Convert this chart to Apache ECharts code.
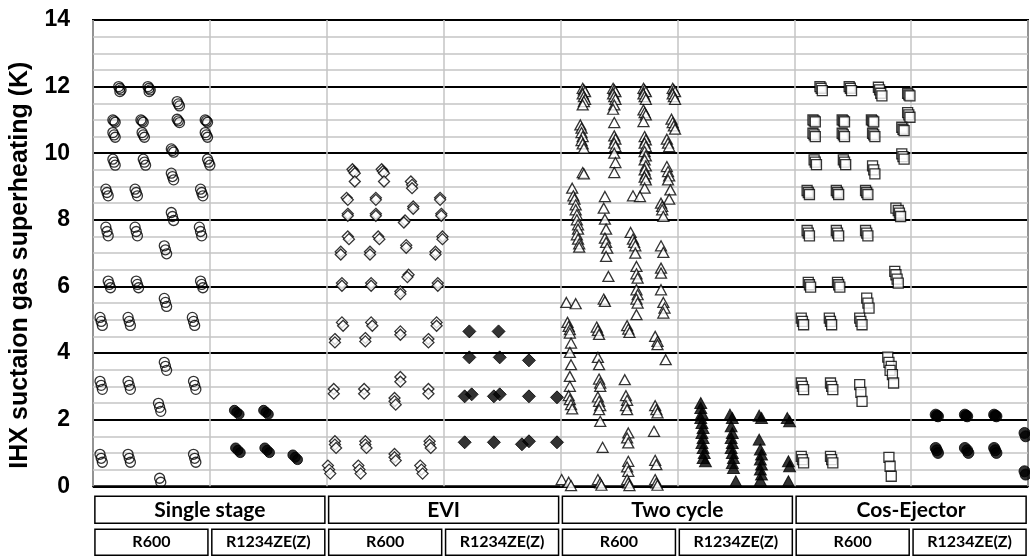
<!DOCTYPE html>
<html>
<head>
<meta charset="utf-8">
<script src="https://cdn.jsdelivr.net/npm/echarts@6/dist/echarts.min.js"></script>
<style>
  html, body { margin: 0; padding: 0; background: #fff; }
  #chart { width: 1030px; height: 556px; }
</style>
</head>
<body>
<div id="chart"></div>
<script>
// cycle groups and refrigerants shown under the plot
const groups = ['Single stage', 'EVI', 'Two cycle', 'Cos-Ejector']
const fluids = ['R600', 'R1234ZE(Z)', 'R600', 'R1234ZE(Z)', 'R600', 'R1234ZE(Z)', 'R600', 'R1234ZE(Z)']
const yTicks = [0, 2, 4, 6, 8, 10, 12, 14]

// [position within slot, superheating K]
const singleR600 = [
  [0.22,12.0],[0.23,11.95],[0.24,11.9],[0.23,11.85],
  [0.47,12.0],[0.48,11.95],[0.49,11.9],[0.48,11.85],
  [0.72,11.55],[0.73,11.48],[0.74,11.42],
  [0.17,11.0],[0.18,10.97],[0.19,10.93],
  [0.41,11.0],[0.42,10.97],[0.43,10.93],
  [0.72,11.02],[0.73,10.97],[0.74,10.92],
  [0.96,11.0],[0.97,10.97],[0.98,10.93],
  [0.17,10.62],[0.18,10.55],[0.19,10.48],
  [0.42,10.62],[0.43,10.55],[0.44,10.48],
  [0.96,10.62],[0.97,10.55],[0.98,10.48],
  [0.67,10.13],[0.68,10.08],[0.69,10.03],
  [0.17,9.82],[0.18,9.73],[0.19,9.64],
  [0.43,9.82],[0.44,9.73],[0.45,9.64],
  [0.98,9.82],[0.99,9.73],[1.0,9.64],
  [0.67,9.4],[0.68,9.3],[0.69,9.2],
  [0.11,8.92],[0.12,8.82],[0.13,8.72],
  [0.36,8.92],[0.37,8.82],[0.38,8.72],
  [0.92,8.92],[0.93,8.82],[0.94,8.72],
  [0.67,8.22],[0.68,8.1],[0.69,7.98],
  [0.11,7.78],[0.12,7.65],[0.13,7.52],
  [0.36,7.78],[0.37,7.65],[0.38,7.52],
  [0.91,7.78],[0.92,7.65],[0.93,7.52],
  [0.61,7.22],[0.62,7.1],[0.63,6.98],
  [0.13,6.16],[0.14,6.06],[0.15,5.96],
  [0.37,6.16],[0.38,6.06],[0.39,5.96],
  [0.92,6.16],[0.93,6.06],[0.94,5.96],
  [0.61,5.64],[0.62,5.52],[0.63,5.4],
  [0.06,5.07],[0.07,4.95],[0.08,4.83],
  [0.30,5.07],[0.31,4.95],[0.32,4.83],
  [0.85,5.07],[0.86,4.95],[0.87,4.83],
  [0.61,3.72],[0.62,3.6],[0.63,3.48],
  [0.06,3.15],[0.07,3.03],[0.08,2.91],
  [0.30,3.15],[0.31,3.03],[0.32,2.91],
  [0.86,3.15],[0.87,3.03],[0.88,2.91],
  [0.56,2.49],[0.57,2.37],[0.58,2.25],
  [0.06,0.96],[0.07,0.84],[0.08,0.72],
  [0.30,0.96],[0.31,0.84],[0.32,0.72],
  [0.86,0.96],[0.87,0.84],[0.88,0.72],
  [0.57,0.24],[0.58,0.12]
]
const singleR1234 = [
  [1.21,2.28],[1.23,2.22],[1.25,2.16],
  [1.46,2.28],[1.48,2.22],[1.50,2.16],
  [1.22,1.15],[1.24,1.08],[1.26,1.01],
  [1.47,1.15],[1.49,1.08],[1.51,1.01],
  [1.71,0.94],[1.73,0.87],[1.75,0.8]
]
const eviR600 = [
  [2.22,9.52],[2.23,9.46],[2.24,9.4],[2.24,9.15],
  [2.47,9.52],[2.48,9.46],[2.49,9.4],[2.49,9.15],
  [2.72,9.15],[2.73,9.05],[2.73,8.95],
  [2.17,8.66],[2.18,8.6],[2.42,8.66],[2.42,8.6],[2.97,8.66],[2.97,8.6],
  [2.18,8.18],[2.18,8.12],[2.42,8.18],[2.42,8.12],[2.74,8.4],[2.74,8.33],
  [2.67,7.98],[2.66,7.92],[2.98,8.18],[2.98,8.12],
  [2.18,7.5],[2.19,7.42],[2.44,7.5],[2.45,7.42],[2.99,7.5],[2.99,7.42],
  [2.12,7.04],[2.12,6.96],[2.37,7.04],[2.37,6.96],[2.68,7.24],[2.68,7.16],[2.93,7.04],[2.93,6.96],
  [2.13,6.1],[2.13,6.02],[2.38,6.1],[2.38,6.02],[2.70,6.35],[2.69,6.28],
  [2.63,5.85],[2.63,5.77],[2.95,6.1],[2.95,6.02],
  [2.13,4.92],[2.14,4.82],[2.38,4.92],[2.39,4.82],
  [2.07,4.42],[2.07,4.32],[2.33,4.45],[2.33,4.35],
  [2.63,4.65],[2.63,4.55],[2.94,4.92],[2.94,4.82],[2.87,4.42],[2.87,4.32],
  [2.06,2.92],[2.06,2.78],[2.32,2.92],[2.32,2.78],
  [2.63,3.28],[2.63,3.14],[2.58,2.65],[2.58,2.55],[2.59,2.45],
  [2.87,2.92],[2.87,2.78],
  [2.07,1.35],[2.07,1.25],[2.08,1.15],
  [2.33,1.35],[2.33,1.25],[2.34,1.15],
  [2.58,0.97],[2.58,0.87],[2.59,0.77],
  [2.88,1.35],[2.88,1.25],[2.89,1.15],
  [2.01,0.62],[2.02,0.5],[2.03,0.38],
  [2.27,0.62],[2.28,0.5],[2.29,0.38],
  [2.80,0.62],[2.81,0.5],[2.82,0.38]
]
const eviR1234 = [
  [3.22,4.65],[3.47,4.65],
  [3.22,3.87],[3.48,3.87],[3.73,3.78],
  [3.18,2.7],[3.24,2.76],[3.43,2.7],[3.48,2.76],[3.73,2.7],[3.97,2.67],
  [3.18,1.32],[3.43,1.32],[3.67,1.26],[3.73,1.35],[3.97,1.32]
]
const twoR600 = [
  [4.19,11.95],[4.2,11.9],[4.21,11.85],[4.19,11.78],[4.2,11.7],[4.21,11.62],[4.2,11.55],[4.19,11.45],
  [4.17,10.85],[4.18,10.75],[4.18,10.62],[4.19,10.5],[4.18,10.38],[4.19,10.28],[4.2,10.15],
  [4.19,9.42],[4.2,9.38],
  [4.1,8.95],[4.11,8.72],[4.12,8.62],[4.13,8.45],[4.13,8.3],[4.14,8.15],[4.14,8.0],[4.15,7.85],
  [4.15,7.72],[4.14,7.55],[4.15,7.42],[4.16,7.28],[4.16,7.18],
  [4.05,5.52],[4.13,5.48],
  [4.06,4.92],[4.07,4.8],[4.08,4.7],[4.08,4.6],[4.09,4.3],[4.08,4.02],[4.09,3.65],[4.08,3.3],
  [4.08,3.0],[4.07,2.72],[4.08,2.6],[4.09,2.45],[4.1,2.32],
  [4.01,0.2],[4.07,0.12],[4.09,0.02],
  [4.45,11.95],[4.46,11.9],[4.47,11.85],[4.45,11.78],[4.46,11.7],[4.47,11.62],[4.46,11.45],[4.45,11.32],
  [4.46,10.92],[4.46,10.52],[4.47,10.42],[4.46,10.3],[4.47,10.2],[4.46,10.0],[4.47,9.72],[4.46,9.42],
  [4.38,8.7],[4.37,8.35],[4.38,8.02],[4.39,7.72],[4.38,7.45],[4.39,7.32],[4.4,7.15],[4.39,6.9],[4.41,6.3],
  [4.37,5.62],[4.38,5.55],
  [4.31,4.78],[4.32,4.68],[4.33,4.56],[4.32,3.87],[4.33,3.65],[4.33,3.22],[4.34,3.1],[4.34,3.0],
  [4.32,2.68],[4.33,2.55],[4.34,2.42],[4.33,2.3],[4.34,1.95],[4.36,1.17],
  [4.32,0.2],[4.34,0.1],[4.35,0.03],
  [4.71,11.95],[4.72,11.9],[4.73,11.85],[4.71,11.78],[4.72,11.7],[4.73,11.62],
  [4.71,11.3],[4.72,11.22],[4.73,11.15],[4.71,10.95],
  [4.72,10.5],[4.73,10.4],[4.72,10.3],[4.73,10.2],[4.72,10.05],[4.73,9.92],[4.72,9.8],[4.73,9.62],
  [4.72,9.5],[4.73,9.38],[4.72,9.28],[4.73,9.2],[4.72,8.95],
  [4.62,8.72],[4.68,8.7],
  [4.6,7.62],[4.62,7.42],[4.63,7.32],[4.64,7.22],[4.64,7.0],[4.65,6.6],[4.65,6.38],[4.66,6.25],
  [4.65,5.9],[4.66,5.75],[4.65,5.62],[4.66,5.5],[4.65,5.15],
  [4.57,4.82],[4.58,4.72],[4.59,4.62],
  [4.55,3.2],[4.56,2.72],[4.57,2.58],[4.56,2.42],[4.57,2.3],
  [4.58,1.6],[4.57,1.45],[4.58,1.3],[4.58,0.75],[4.57,0.58],[4.58,0.45],
  [4.57,0.2],[4.58,0.1],[4.59,0.02],
  [4.96,11.95],[4.97,11.9],[4.98,11.85],[4.96,11.78],[4.97,11.7],[4.98,11.62],
  [4.95,11.02],[4.96,10.92],[4.97,10.82],[4.98,10.72],
  [4.91,10.42],[4.92,10.3],[4.93,10.2],
  [4.91,9.6],[4.92,9.45],[4.93,9.32],[4.92,9.2],
  [4.94,8.9],[4.93,8.62],[4.86,8.5],[4.87,8.4],[4.87,8.3],[4.88,8.1],
  [4.86,7.22],[4.88,7.02],[4.86,6.55],[4.86,6.4],[4.86,5.9],
  [4.88,5.52],[4.89,5.35],[4.88,5.2],
  [4.81,4.5],[4.83,4.35],[4.83,4.25],[4.9,3.8],
  [4.81,2.42],[4.82,2.3],[4.83,2.2],[4.8,1.65],
  [4.81,0.78],[4.82,0.65],[4.81,0.2],[4.82,0.1],[4.83,0.03]
]
const twoR1234 = [
  [5.2,2.5],[5.2,2.35],[5.21,2.2],[5.2,2.05],[5.21,1.9],[5.22,1.75],[5.21,1.6],[5.22,1.45],
  [5.21,1.3],[5.22,1.15],[5.23,1.0],[5.22,0.85],[5.24,0.75],
  [5.45,2.15],[5.47,2.05],[5.46,1.8],[5.47,1.6],[5.46,1.45],[5.47,1.3],[5.46,1.15],[5.47,1.0],
  [5.48,0.85],[5.47,0.7],[5.48,0.55],[5.5,0.15],
  [5.7,2.12],[5.72,2.05],[5.7,1.4],[5.71,1.1],[5.72,0.95],[5.71,0.8],[5.72,0.65],[5.71,0.5],
  [5.72,0.35],[5.71,0.18],
  [5.94,2.05],[5.96,1.95],[5.95,0.75],[5.96,0.6],[5.95,0.15]
]
const cosR600 = [
  [6.22,12.0],[6.23,11.95],[6.24,11.88],
  [6.47,12.0],[6.48,11.95],[6.49,11.88],
  [6.72,11.98],[6.73,11.9],[6.74,11.8],[6.75,11.72],
  [6.97,11.8],[6.98,11.75],[6.99,11.72],
  [6.16,11.0],[6.17,10.97],[6.18,10.94],
  [6.41,11.0],[6.42,10.97],[6.43,10.94],
  [6.66,11.0],[6.67,10.97],[6.68,10.94],
  [6.97,11.22],[6.98,11.15],[6.99,11.08],
  [6.92,10.78],[6.93,10.72],[6.94,10.68],
  [6.16,10.6],[6.17,10.55],[6.18,10.5],
  [6.41,10.6],[6.42,10.55],[6.43,10.5],
  [6.67,10.6],[6.68,10.55],[6.69,10.5],
  [6.92,9.98],[6.93,9.9],[6.94,9.82],
  [6.17,9.8],[6.18,9.73],[6.19,9.66],
  [6.42,9.8],[6.43,9.73],[6.44,9.66],
  [6.67,9.62],[6.68,9.5],[6.69,9.38],
  [6.11,8.88],[6.12,8.82],[6.13,8.76],
  [6.36,8.88],[6.37,8.82],[6.38,8.76],
  [6.61,8.88],[6.62,8.82],[6.63,8.76],
  [6.87,8.35],[6.89,8.28],[6.9,8.2],[6.91,8.1],
  [6.11,7.68],[6.12,7.6],[6.13,7.52],
  [6.36,7.68],[6.37,7.6],[6.38,7.52],
  [6.61,7.68],[6.62,7.6],[6.63,7.52],
  [6.86,6.45],[6.87,6.35],[6.88,6.22],[6.89,6.1],
  [6.12,6.12],[6.13,6.05],[6.14,5.98],
  [6.37,6.12],[6.38,6.05],[6.39,5.98],
  [6.62,5.65],[6.63,5.5],[6.64,5.35],
  [6.06,5.05],[6.07,4.95],[6.08,4.85],
  [6.3,5.05],[6.31,4.95],[6.32,4.85],
  [6.56,5.05],[6.57,4.95],[6.58,4.85],
  [6.8,3.88],[6.81,3.72],[6.83,3.6],[6.82,3.48],[6.84,3.35],[6.85,3.1],
  [6.06,3.1],[6.07,3.0],[6.08,2.9],
  [6.31,3.1],[6.32,3.0],[6.33,2.9],
  [6.56,3.05],[6.57,2.82],[6.58,2.55],
  [6.06,0.9],[6.07,0.8],[6.08,0.7],
  [6.31,0.9],[6.32,0.8],[6.33,0.7],
  [6.81,0.87],[6.82,0.6],[6.83,0.3]
]
const cosR1234 = [
  [7.21,2.15],[7.22,2.12],[7.23,2.1],
  [7.46,2.15],[7.47,2.12],[7.48,2.1],
  [7.71,2.15],[7.72,2.12],[7.73,2.1],
  [7.21,1.15],[7.22,1.08],[7.23,1.0],
  [7.46,1.15],[7.48,1.08],[7.49,1.0],
  [7.71,1.15],[7.72,1.08],[7.73,1.0],
  [7.97,1.6],[7.98,1.5],[7.97,0.45],[7.98,0.35]
]

const chart = echarts.init(document.getElementById('chart'), null, { renderer: 'canvas' })

const openStyle = (fill) => ({ color: fill, borderColor: '#000', borderWidth: 1.3 })
const filledStyle = { color: '#000', borderColor: '#000', borderWidth: 1 }

function scatter(name, data, symbol, size, style) {
  return {
    name, type: 'scatter', data, symbol, symbolSize: size, clip: true,
    xAxisIndex: 0, yAxisIndex: 0, itemStyle: style, silent: true,
  }
}

const boxLabel = (w, h, fs) => ({
  interval: 0,
  width: w,
  height: h,
  lineHeight: h,
  align: 'center',
  verticalAlign: 'top',
  borderColor: '#000',
  borderWidth: 1.5,
  color: '#000',
  fontFamily: 'Lato',
  fontWeight: 'bold',
  fontSize: fs,
})

chart.setOption({
  animation: false,
  backgroundColor: '#fff',
  grid: { left: 90, right: 2, top: 20, bottom: 69, show: true, borderColor: '#000', borderWidth: 2 },
  xAxis: [
    {
      type: 'value', min: 0, max: 8, interval: 1,
      axisLine: { show: false }, axisTick: { show: false }, axisLabel: { show: false },
      splitLine: { lineStyle: { color: '#c4c4c4', width: 1.5 } },
    },
    {
      type: 'category', data: groups, position: 'bottom',
      axisLine: { show: false }, axisTick: { show: false }, splitLine: { show: false },
      axisLabel: { ...boxLabel(230, 27, 21), margin: 10 },
    },
    {
      type: 'category', data: fluids, position: 'bottom',
      axisLine: { show: false }, axisTick: { show: false }, splitLine: { show: false },
      axisLabel: { ...boxLabel(113, 26, 16), margin: 43 },
    },
  ],
  yAxis: [
    {
      type: 'value', min: 0, max: 14, interval: 0.5,
      axisLine: { show: false }, axisTick: { show: false }, axisLabel: { show: false },
      splitLine: { lineStyle: { color: ['transparent', '#c4c4c4', '#c4c4c4', '#c4c4c4'], width: 1.5 } },
    },
    {
      type: 'value', min: yTicks[0], max: yTicks[yTicks.length - 1], interval: 2, position: 'left',
      axisLine: { show: false }, axisTick: { show: false },
      axisLabel: { color: '#000', fontSize: 23, fontWeight: 'bold', fontFamily: 'Liberation Sans', margin: 23 },
      splitLine: { lineStyle: { color: '#000', width: 2 } },
      name: 'IHX suctaion gas superheating (K)',
      nameLocation: 'middle',
      nameGap: 60,
      nameTextStyle: { color: '#000', fontSize: 25, fontWeight: 'bold', fontFamily: 'Liberation Sans', padding: [0, 24, 0, 0] },
    },
  ],
  series: [
    scatter('Single stage R600', singleR600, 'circle', 10, openStyle('transparent')),
    scatter('Single stage R1234ZE(Z)', singleR1234, 'circle', 10, filledStyle),
    scatter('EVI R600', eviR600, 'diamond', 11, openStyle('#fff')),
    scatter('EVI R1234ZE(Z)', eviR1234, 'diamond', 13, filledStyle),
    scatter('Two cycle R600', twoR600, 'triangle', [11, 10], openStyle('#fff')),
    scatter('Two cycle R1234ZE(Z)', twoR1234, 'triangle', [12, 11], filledStyle),
    scatter('Cos-Ejector R600', cosR600, 'rect', 10, openStyle('#fff')),
    scatter('Cos-Ejector R1234ZE(Z)', cosR1234, 'circle', 11, filledStyle),
  ],
})

window.addEventListener('resize', () => chart.resize())
</script>
</body>
</html>
